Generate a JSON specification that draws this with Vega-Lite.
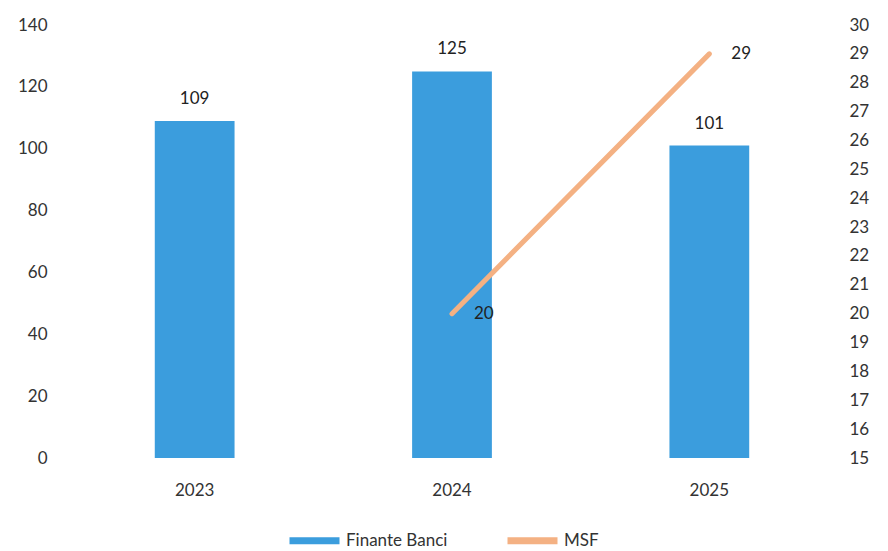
{
  "$schema": "https://vega.github.io/schema/vega-lite/v6.json",
  "width": 772,
  "height": 433,
  "padding": {"left": 17, "top": 16, "right": 5, "bottom": 5},
  "config": {
    "font": "Lato",
    "view": {"stroke": null},
    "axis": {"grid": false, "domain": false, "ticks": false, "labelFont": "Lato", "labelFontSize": 17, "labelColor": "#333333", "labelOverlap": false},
    "legend": {"labelFont": "Lato", "labelFontSize": 17, "labelColor": "#333333", "symbolType": "stroke", "symbolSize": 2500, "symbolStrokeWidth": 7}
  },
  "data": {
    "values": [
      {"year": "2023", "banci": 109, "msf": null},
      {"year": "2024", "banci": 125, "msf": 20},
      {"year": "2025", "banci": 101, "msf": 29}
    ]
  },
  "encoding": {
    "x": {"field": "year", "type": "nominal", "title": null,
      "scale": {"paddingInner": 0.69, "paddingOuter": 0.345},
      "axis": {"labelAngle": 0, "labelPadding": 24}}
  },
  "layer": [
    {
      "layer": [
        {
          "mark": {"type": "bar"},
          "encoding": {
            "y": {"field": "banci", "type": "quantitative", "title": null,
              "scale": {"domain": [0, 140], "nice": false},
              "axis": {"values": [0, 20, 40, 60, 80, 100, 120, 140], "labelPadding": 19}},
            "color": {"datum": "Finante Banci", "type": "nominal",
              "scale": {"domain": ["Finante Banci", "MSF"], "range": ["#3b9ddd", "#f4b183"]},
              "legend": {"title": null, "orient": "none", "legendX": 220, "legendY": 487, "direction": "horizontal",
                "columnPadding": 45, "labelOffset": 3}}
          }
        },
        {
          "mark": {"type": "text", "baseline": "bottom", "dy": -13, "fontSize": 17, "color": "#222222"},
          "encoding": {
            "y": {"field": "banci", "type": "quantitative", "axis": {"values": [0, 20, 40, 60, 80, 100, 120, 140], "labelPadding": 19}},
            "text": {"field": "banci", "type": "quantitative"}
          }
        }
      ]
    },
    {
      "transform": [{"filter": "datum.msf != null"}],
      "layer": [
        {
          "mark": {"type": "line", "strokeWidth": 5, "strokeCap": "round"},
          "encoding": {
            "y": {"field": "msf", "type": "quantitative", "title": null,
              "scale": {"domain": [15, 30], "nice": false, "zero": false},
              "axis": {"orient": "right", "labelOverlap": false, "labelSeparation": 0, "values": [15,16,17,18,19,20,21,22,23,24,25,26,27,28,29,30], "labelPadding": 11}},
            "color": {"datum": "MSF", "type": "nominal"}
          }
        },
        {
          "mark": {"type": "text", "align": "left", "baseline": "middle", "dx": 22, "fontSize": 17, "color": "#222222"},
          "encoding": {
            "y": {"field": "msf", "type": "quantitative", "axis": {"orient": "right", "labelOverlap": false, "labelSeparation": 0, "values": [15,16,17,18,19,20,21,22,23,24,25,26,27,28,29,30], "labelPadding": 11}},
            "text": {"field": "msf", "type": "quantitative"}
          }
        }
      ]
    }
  ],
  "resolve": {"scale": {"y": "independent"}}
}
